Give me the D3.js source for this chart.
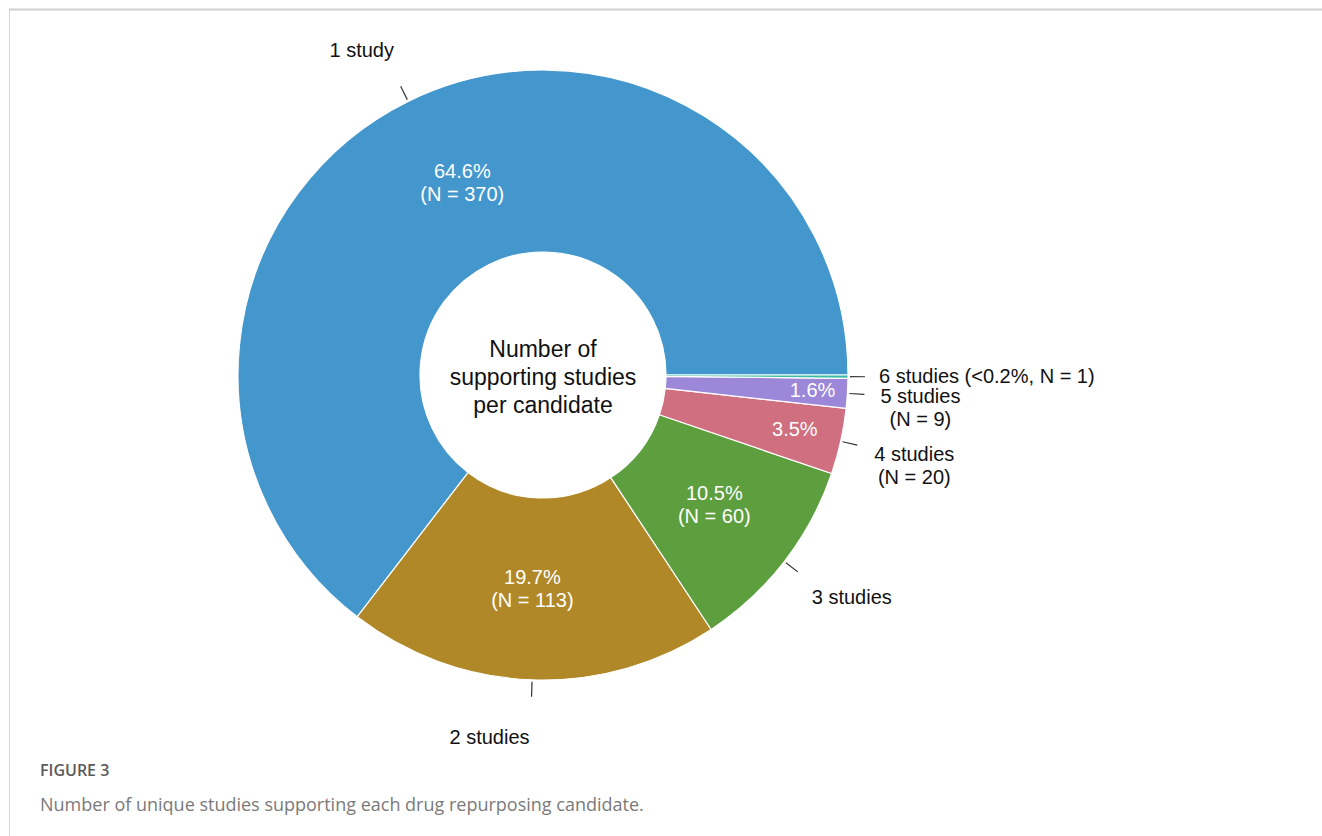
<!DOCTYPE html>
<html>
<head>
<meta charset="utf-8">
<script src="https://cdn.jsdelivr.net/npm/d3@7"></script>
<style>
  html, body { margin: 0; padding: 0; background: #fff; }
  svg { display: block; }
</style>
</head>
<body>
<svg id="chart" width="1322" height="836"></svg>
<script>
// Number of supporting studies per drug repurposing candidate
const categories = ["1 study", "2 studies", "3 studies", "4 studies", "5 studies", "6 studies"];
const counts = [370, 113, 60, 20, 9, 1];
const percentLabels = ["64.6%", "19.7%", "10.5%", "3.5%", "1.6%", "<0.2%"];
const sliceColors = ["#4397cc", "#b08828", "#5d9e3e", "#d06f80", "#9c87d8", "#3fb8a8"];

// Outside label lines for each slice
const outsideText = [
  ["1 study"],
  ["2 studies"],
  ["3 studies"],
  ["4 studies", "(N = 20)"],
  ["5 studies", "(N = 9)"],
  ["6 studies (<0.2%, N = 1)"]
];
// Inside label lines (slices too thin get none)
const insideText = [
  ["64.6%", "(N = 370)"],
  ["19.7%", "(N = 113)"],
  ["10.5%", "(N = 60)"],
  ["3.5%"],
  ["1.6%"],
  []
];

const svg = d3.select("#chart");
const W = 1322, H = 836;

// Figure frame
svg.append("line").attr("x1", 9).attr("x2", W).attr("y1", 9.5).attr("y2", 9.5)
  .attr("stroke", "#cfcfcf").attr("stroke-width", 2);
svg.append("line").attr("x1", 9.5).attr("x2", 9.5).attr("y1", 9).attr("y2", H)
  .attr("stroke", "#d4d4d4").attr("stroke-width", 1);

const cx = 543, cy = 375;
const outerR = 305, innerR = 123;

const data = categories.map((c, i) => ({ cat: c, n: counts[i], i }));

// Slices run counter-clockwise from 3 o'clock
const pie = d3.pie().value(d => d.n).sort(null)
  .startAngle(Math.PI / 2).endAngle(Math.PI / 2 - 2 * Math.PI);
const arcs = pie(data);

const arc = d3.arc().innerRadius(innerR).outerRadius(outerR);
const g = svg.append("g").attr("transform", `translate(${cx},${cy})`);

g.selectAll("path.slice").data(arcs).join("path")
  .attr("class", "slice")
  .attr("d", arc)
  .attr("fill", d => sliceColors[d.data.i])
  .attr("stroke", "#fff")
  .attr("stroke-width", 1.2);

const mid = d => (d.startAngle + d.endAngle) / 2;
const polar = (a, r) => [r * Math.sin(a), -r * Math.cos(a)];

// Inside label placement: radius and nudge per slice
const insideLayout = [
  { r: 212, dx: 13, dy: -2 },
  { r: 214, dx: -3, dy: 0 },
  { r: 214, dx: 2, dy: -1 },
  { r: 258, dx: 0, dy: -2 },
  { r: 270, dx: 0, dy: -1 },
  { r: 214, dx: 0, dy: 0 }
];
const lineH = 23;
arcs.forEach(d => {
  const lines = insideText[d.data.i];
  if (!lines.length) return;
  const L = insideLayout[d.data.i];
  const [x, y] = polar(mid(d), L.r);
  const t = g.append("text")
    .attr("text-anchor", "middle")
    .attr("font-family", "'Liberation Sans', Arial, Helvetica, sans-serif")
    .attr("font-size", 20)
    .attr("fill", "#fff");
  const y0 = y + L.dy - (lines.length - 1) * lineH / 2 + 7;
  lines.forEach((s, k) => {
    t.append("tspan").attr("x", x + L.dx).attr("y", y0 + k * lineH).text(s);
  });
});

// Leader ticks and outside labels
const tickIn = outerR + 2, tickOut = outerR + 17;
const outsideLayout = [
  { dx: -39, dy: -29, anchor: "middle" },
  { dx: -42, dy: 47, anchor: "middle" },
  { dx: 54, dy: 32, anchor: "middle" },
  { dx: 57, dy: 16, anchor: "middle" },
  { dx: 56, dy: 9, anchor: "middle" },
  { dx: 14, dy: 6, anchor: "start" }
];
arcs.forEach(d => {
  const a = mid(d);
  const [x1, y1] = polar(a, tickIn);
  const [x2, y2] = polar(a, tickOut);
  g.append("line")
    .attr("x1", x1).attr("y1", y1).attr("x2", x2).attr("y2", y2)
    .attr("stroke", "#333").attr("stroke-width", 1.2);
  const L = outsideLayout[d.data.i];
  const t = g.append("text")
    .attr("text-anchor", L.anchor)
    .attr("font-family", "'Liberation Sans', Arial, Helvetica, sans-serif")
    .attr("font-size", 20)
    .attr("fill", "#111");
  outsideText[d.data.i].forEach((s, k) => {
    t.append("tspan").attr("x", x2 + L.dx).attr("y", y2 + L.dy + k * lineH).text(s);
  });
});

// Centre title
const centreLines = ["Number of", "supporting studies", "per candidate"];
const ct = g.append("text")
  .attr("text-anchor", "middle")
  .attr("font-family", "'Liberation Sans', Arial, Helvetica, sans-serif")
  .attr("font-size", 23)
  .attr("fill", "#111");
centreLines.forEach((s, k) => {
  ct.append("tspan").attr("x", 0).attr("y", 10 + (k - 1) * 28).text(s);
});

// Caption
svg.append("text")
  .attr("x", 40).attr("y", 776)
  .attr("font-family", "'Open Sans', sans-serif")
  .attr("font-size", 16)
  .attr("font-weight", 600)
  .attr("fill", "#5a5a5a")
  .text("FIGURE 3");
svg.append("text")
  .attr("x", 40).attr("y", 811)
  .attr("font-family", "'Open Sans', sans-serif")
  .attr("font-size", 18)
  .attr("fill", "#7a7a7a")
  .text("Number of unique studies supporting each drug repurposing candidate.");
</script>
</body>
</html>
